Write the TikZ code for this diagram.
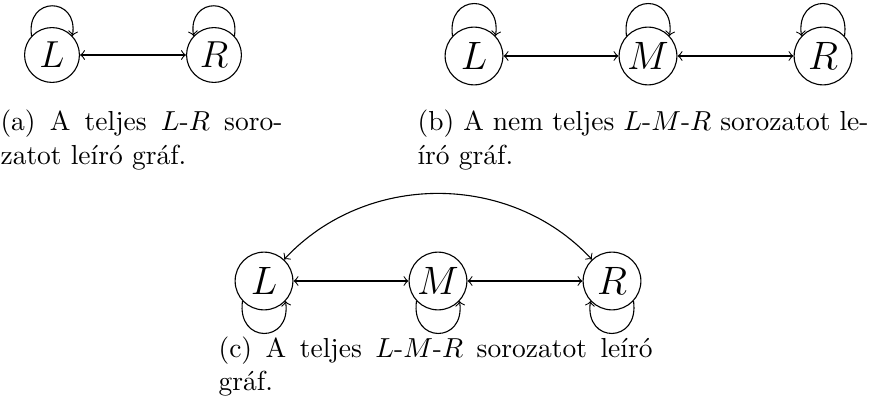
\documentclass[tikz,border=0pt]{standalone}
\usepackage{fontspec}
\usepackage{amsmath}
\usetikzlibrary{arrows, positioning, calc}
\tikzset{
    stateNode/.style={circle, draw, thin, inner sep=0pt, minimum size=21pt, font=\Large},
    smallState/.style={stateNode, scale=0.95},
    graphEdge/.style={thin, <->, >=to},
    selfLoop/.style={thin, ->, >=to},
    capText/.style={anchor=base west, align=left, inner sep=0pt},
}

\begin{document}
\begin{tikzpicture}[x=0.3636pt, y=0.3636pt]
    \useasboundingbox (0,0) rectangle (870,-415);

    % (a) L-R
    \node[smallState] (aL) at (52,-55) {$L$};
    \node[smallState] (aR) at (214,-55) {$R$};
    \draw[graphEdge] (aL) -- (aR);
    \draw[selfLoop] (aL.137) .. controls +(-6,40) and +(6,40) .. (aL.43);
    \draw[selfLoop] (aR.43) .. controls +(6,40) and +(-6,40) .. (aR.137);
    \node[capText] (capA) at (0,-164)
        {\makebox[102.5pt][s]{(a) A teljes $L$-$R$ soro-}\\zatot leíró gráf.};

    % (b) L-M-R, nem teljes
    \node[stateNode] (bL) at (474,-56) {$L$};
    \node[stateNode] (bM) at (648,-56) {$M$};
    \node[stateNode] (bR) at (823,-56) {$R$};
    \draw[graphEdge] (bL) -- (bM);
    \draw[graphEdge] (bM) -- (bR);
    \draw[selfLoop] (bL.137) .. controls +(-6,43) and +(6,43) .. (bL.43);
    \draw[selfLoop] (bM.137) .. controls +(-6,43) and +(6,43) .. (bM.43);
    \draw[selfLoop] (bR.43) .. controls +(6,43) and +(-6,43) .. (bR.137);
    \node[capText] (capB) at (417,-164)
        {\makebox[164pt][s]{(b) A nem teljes $L$-$M$-$R$ sorozatot le-}\\író gráf.};

    % (c) L-M-R, teljes
    \node[stateNode] (cL) at (264,-281) {$L$};
    \node[stateNode] (cM) at (438,-281) {$M$};
    \node[stateNode] (cR) at (612,-281) {$R$};
    \draw[graphEdge] (cL) -- (cM);
    \draw[graphEdge] (cM) -- (cR);
    \draw[graphEdge] (cL) to[bend left=47] (cR);
    \draw[selfLoop] (cL.223) .. controls +(-6,-43) and +(6,-43) .. (cL.317);
    \draw[selfLoop] (cM.223) .. controls +(-6,-43) and +(6,-43) .. (cM.317);
    \draw[selfLoop] (cR.317) .. controls +(6,-43) and +(-6,-43) .. (cR.223);
    \node[capText] (capC) at (218,-390)
        {\makebox[157.8pt][s]{(c) A teljes $L$-$M$-$R$ sorozatot leíró}\\gráf.};

\end{tikzpicture}
\end{document}
